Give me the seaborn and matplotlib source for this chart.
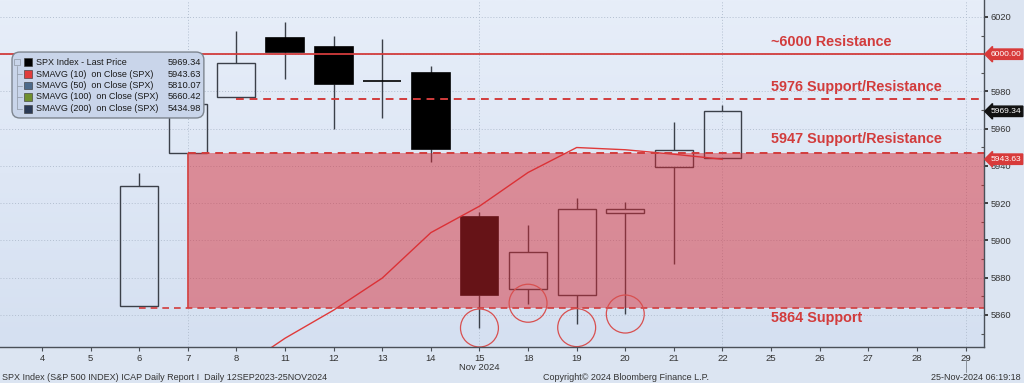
import numpy as np
import pandas as pd
import matplotlib
matplotlib.use("Agg")
import matplotlib.pyplot as plt
import seaborn as sns
import matplotlib.transforms as mtransforms
from matplotlib.patches import Ellipse, Rectangle, FancyBboxPatch
from matplotlib.lines import Line2D
from matplotlib.colors import LinearSegmentedColormap

sns.set_theme(style="white")
plt.rcParams['font.family'] = ['Liberation Sans', 'DejaVu Sans']

# ---------------- data ----------------
dates = ["4", "5", "6", "7", "8", "11", "12", "13", "14", "15",
         "18", "19", "20", "21", "22", "25", "26", "27", "28", "29"]
candle_dates = ["6", "7", "8", "11", "12", "13", "14", "15", "18", "19", "20", "21", "22"]
opens = [5864.9, 5947.2, 5976.8, 6008.9, 6003.6, 5985.8, 5989.7, 5912.8, 5874.2, 5870.7, 5914.5, 5939.6, 5944.4]
highs = [5936.1, 5983.8, 6012.5, 6017.3, 6009.9, 6008.2, 5993.9, 5915.3, 5908.1, 5923.0, 5920.5, 5963.7, 5972.9]
lows = [5864.9, 5947.2, 5976.8, 5986.7, 5960.1, 5965.9, 5942.3, 5853.0, 5866.0, 5855.0, 5860.4, 5887.4, 5944.4]
closes = [5929.0, 5973.1, 5995.5, 6001.4, 5984.0, 5985.4, 5949.2, 5870.6, 5893.6, 5917.0, 5917.1, 5948.7, 5969.3]

sma_dates = ["8", "11", "12", "13", "14", "15", "18", "19", "20", "21", "22"]
sma10 = [5829.8, 5847.5, 5862.6, 5879.8, 5904.2, 5918.4, 5936.5, 5949.9, 5948.7, 5946.3, 5943.6]

resistance = 6000
level_5976 = 5976
level_5947 = 5947
level_5864 = 5864
level_labels = ["~6000 Resistance", "5976 Support/Resistance", "5947 Support/Resistance", "5864 Support"]

circle_dates = ["15", "18", "19", "20"]
circle_lows = [5853.0, 5866.3, 5853.2, 5860.5]

legend_names = ["SPX Index - Last Price", "SMAVG (10)  on Close (SPX)", "SMAVG (50)  on Close (SPX)",
                "SMAVG (100)  on Close (SPX)", "SMAVG (200)  on Close (SPX)"]
legend_values = ["5969.34", "5943.63", "5810.07", "5660.42", "5434.98"]
legend_colors = ["#000000", "#e03c3c", "#4d6a8a", "#6f8f2f", "#2b3a55"]

y_ticks = [5860, 5880, 5900, 5920, 5940, 5960, 5980, 6000, 6020]
y_tick_labels = ["5860", "5880", "5900", "5920", "5940", "5960", "5980", "", "6020"]

last_price = 5969.34
sma_last = 5943.63

# ---------------- figure ----------------
fig = plt.figure(figsize=(10.24, 3.83), dpi=100)
fig.patch.set_facecolor("#dce5f2")
ax = fig.add_axes([0, 36 / 383, 984 / 1024, 347 / 383])
xmin, xmax = -0.864, 19.38
ymin, ymax = 5842.8, 6029.1
ax.set_xlim(xmin, xmax)
ax.set_ylim(ymin, ymax)

# gradient background
grad = np.linspace(0, 1, 256).reshape(-1, 1)
cmap = LinearSegmentedColormap.from_list("bg", ["#e7eef9", "#d5e0f1"])
ax.imshow(grad, extent=[0, 1, 0, 1], transform=ax.transAxes, cmap=cmap,
          aspect="auto", origin="upper", zorder=0)

# grid
for yv in range(5860, 6021, 20):
    ax.axhline(yv, color="#b3bfd0", lw=0.7, ls=(0, (1, 2)), zorder=0.5)
for xv in [3, 9, 14, 19]:
    ax.axvline(xv, color="#b3bfd0", lw=0.7, ls=(0, (1, 2)), zorder=0.5)

# candles
pos = {d: i for i, d in enumerate(dates)}
cx = np.array([pos[d] for d in candle_dates])
o = np.array(opens); c = np.array(closes); h = np.array(highs); l = np.array(lows)
top = np.maximum(o, c); bot = np.minimum(o, c)
edge = "#3b4049"
ax.vlines(cx, top, h, color=edge, lw=1.0, zorder=2)
ax.vlines(cx, l, bot, color=edge, lw=1.0, zorder=2)
down = c < o
ax.bar(cx[down], (top - bot)[down], bottom=bot[down], width=0.78,
       color="#000000", edgecolor="#000000", lw=1.2, zorder=2.5)
ax.bar(cx[~down], (top - bot)[~down], bottom=bot[~down], width=0.78,
       facecolor="none", edgecolor=edge, lw=1.0, zorder=2.5)

# SMA line
sx = [pos[d] for d in sma_dates]
sns.lineplot(x=sx, y=sma10, ax=ax, color="#e03a3a", lw=1.0, zorder=3, legend=False)

# shaded support zone
ax.fill_between([3, xmax], level_5864, level_5947, color=(215 / 255, 40 / 255, 50 / 255),
                alpha=0.48, lw=0, zorder=4)
ax.vlines(3, level_5864, level_5947, color="#d44848", lw=1.3, zorder=4.5)

red = "#d23c3c"
ax.axhline(resistance, color=red, lw=1.3, zorder=5)
ax.hlines(level_5976, 4, xmax, color=red, lw=1.4, ls=(0, (4, 3)), zorder=5)
ax.hlines(level_5947, 3, xmax, color=red, lw=1.4, ls=(0, (4, 3)), zorder=5)
ax.hlines(level_5864, 2, xmax, color=red, lw=1.2, ls=(0, (4, 3)), zorder=5)

lab_kw = dict(fontsize=10.4, weight="bold", color=red, va="center", ha="left", zorder=6)
ax.text(15.0, 6006.6, level_labels[0], **lab_kw)
ax.text(15.0, 5982.4, level_labels[1], **lab_kw)
ax.text(15.0, 5954.5, level_labels[2], **lab_kw)
ax.text(15.0, 5858.4, level_labels[3], **lab_kw)

# circles at lows
for d, yv in zip(circle_dates, circle_lows):
    ax.add_patch(Ellipse((pos[d], yv), 0.78, 20.4, fill=False, ec="#d85050", lw=0.9, zorder=5))

# axes styling
for s in ["left", "top"]:
    ax.spines[s].set_visible(False)
for s in ["bottom", "right"]:
    ax.spines[s].set_color("#4a5058")
    ax.spines[s].set_linewidth(1.0)
    ax.spines[s].set_zorder(7)

ax.set_xticks(range(len(dates)))
ax.set_xticklabels(dates)
ax.tick_params(axis="x", bottom=True, direction="out", length=3, width=0.8, color="#4a5058",
               labelsize=6.8, labelcolor="#333333", pad=2)
ax.yaxis.tick_right()
ax.set_yticks(y_ticks)
ax.set_yticklabels(y_tick_labels)
ax.set_yticks(range(5850, 6030, 10), minor=True)
ax.tick_params(axis="y", which="major", right=True, direction="out", length=3, width=1.2,
               color="#222222", labelsize=6.7, labelcolor="#333333", pad=1.5)
ax.tick_params(axis="y", which="minor", right=True, direction="in", length=2, width=0.8, color="#555555")
ax.set_xlabel(""); ax.set_ylabel("")

# right-hand value tags
trans = mtransforms.blended_transform_factory(ax.transAxes, ax.transData)
tag_kw = dict(transform=trans, ha="left", va="center", fontsize=6.1, color="white", zorder=20, clip_on=False)
ax.text(1.0065, resistance, "6000.00",
        bbox=dict(boxstyle="larrow,pad=0.2", fc="#d83a3a", ec="#d83a3a"), **tag_kw)
ax.text(1.0065, last_price, f"{last_price:.2f}",
        bbox=dict(boxstyle="larrow,pad=0.2", fc="#111111", ec="#111111"), **tag_kw)
ax.text(1.0065, sma_last, f"{sma_last:.2f}",
        bbox=dict(boxstyle="larrow,pad=0.2", fc="#d83a3a", ec="#d83a3a"), **tag_kw)

# month label
tx = mtransforms.blended_transform_factory(ax.transData, ax.transAxes)
ax.text(pos["15"], -0.058, "Nov 2024", transform=tx, ha="center", va="center", fontsize=6.8, color="#333333")

# legend box
ax.add_patch(FancyBboxPatch((0.0122, 0.660), 0.195, 0.19, boxstyle="round,pad=0,rounding_size=0.008",
                            transform=ax.transAxes, fc="#c9d5ea", ec="#7d858f", lw=1.0, zorder=10,
                            mutation_aspect=2.8))
rows = [0.8213, 0.7867, 0.7536, 0.7205, 0.6859]
tree_x = 17 / 984
ax.add_line(Line2D([tree_x, tree_x], [rows[0] - 0.012, rows[-1]], transform=ax.transAxes,
                   color="#98a2b0", lw=0.6, zorder=11))
ax.add_patch(Rectangle((tree_x - 0.003, rows[0] - 0.009), 0.006, 0.018, transform=ax.transAxes,
                       fc="none", ec="#98a2b0", lw=0.6, zorder=11))
for i, (nm, val, col, ry) in enumerate(zip(legend_names, legend_values, legend_colors, rows)):
    if i > 0:
        ax.add_line(Line2D([tree_x, 22 / 984], [ry, ry], transform=ax.transAxes,
                           color="#98a2b0", lw=0.6, zorder=11))
    ax.add_patch(Rectangle((28 / 984 - 0.0037, ry - 0.0105), 0.0074, 0.021, transform=ax.transAxes,
                           fc=col, ec="#333333", lw=0.4, zorder=11))
    ax.text(36 / 984, ry, nm, transform=ax.transAxes, fontsize=6.45, color="#1a1a1a",
            va="center", ha="left", zorder=12)
    ax.text(201 / 984, ry, val, transform=ax.transAxes, fontsize=6.7, color="#1a1a1a",
            va="center", ha="right", zorder=12)

# footer
fy = 1 - 378 / 383
fig.text(2 / 1024, fy, "SPX Index (S&P 500 INDEX) ICAP Daily Report I  Daily 12SEP2023-25NOV2024",
         fontsize=6.5, color="#333333", ha="left", va="center")
fig.text(543 / 1024, fy, "Copyright\u00a9 2024 Bloomberg Finance L.P.",
         fontsize=6.5, color="#333333", ha="left", va="center")
fig.text(1021 / 1024, fy, "25-Nov-2024 06:19:18",
         fontsize=6.5, color="#333333", ha="right", va="center")
fig.add_artist(Line2D([966 / 1024, 966 / 1024], [1 - 360 / 383, 1 - 372 / 383], transform=fig.transFigure,
                      color="#8a929c", lw=0.7))

fig.savefig("out.png", dpi=100, facecolor=fig.get_facecolor())
